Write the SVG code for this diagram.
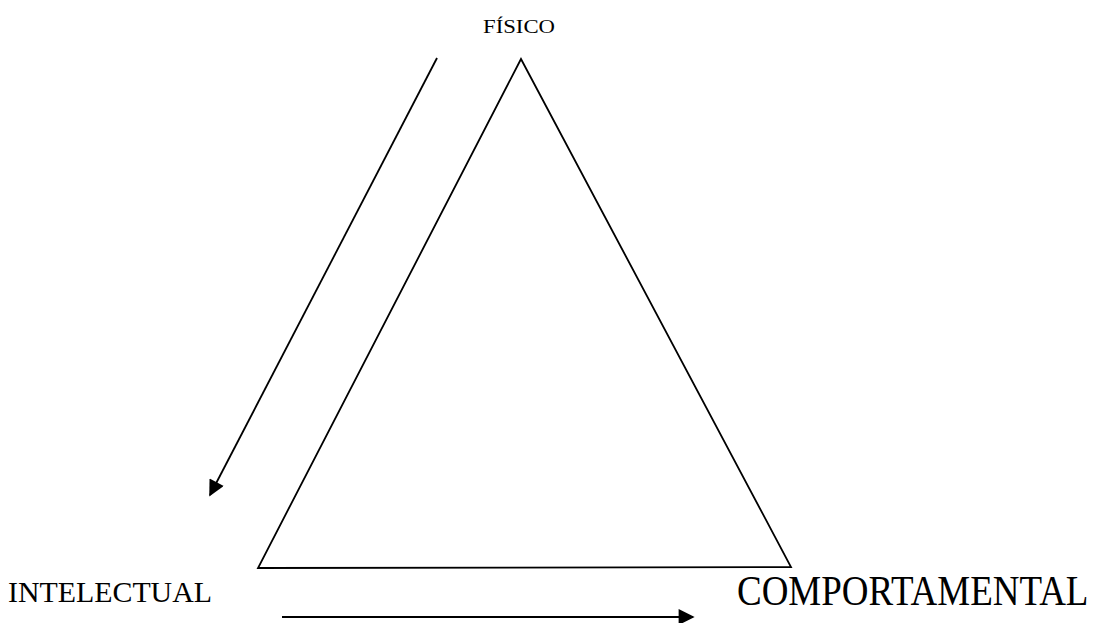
<svg xmlns="http://www.w3.org/2000/svg" width="1104" height="623" viewBox="0 0 1104 623">
<style>
.ln{stroke:#000;stroke-width:1.8;fill:none}
.t{font-family:"Liberation Serif","Times New Roman",serif;fill:#000}
</style>
<defs>
<marker id="ah" viewBox="0 0 10 10" refX="9" refY="5" markerWidth="18" markerHeight="16" markerUnits="userSpaceOnUse" orient="auto">
<path d="M0,0 L10,5 L0,10 z" fill="#000"/>
</marker>
</defs>
<rect width="1104" height="623" fill="#fff"/>
<g id="triangle">
<polygon class="ln" points="521,59 258,568 791,567"/>
</g>
<g id="fisico"><text class="t" x="483" y="33" font-size="19" textLength="72" lengthAdjust="spacingAndGlyphs">FÍSICO</text></g>
<g id="intelectual"><text class="t" x="8" y="602" font-size="30" textLength="204" lengthAdjust="spacingAndGlyphs">INTELECTUAL</text></g>
<g id="comportamental"><text class="t" x="737" y="0" font-size="37" transform="translate(0,605) scale(1,1.15)">COMPORTAMENTAL</text></g>
<g id="connectors">
<line class="ln" x1="437" y1="58" x2="210" y2="495" marker-end="url(#ah)"/>
<line class="ln" x1="282" y1="617" x2="693" y2="617" marker-end="url(#ah)"/>
</g>
</svg>
